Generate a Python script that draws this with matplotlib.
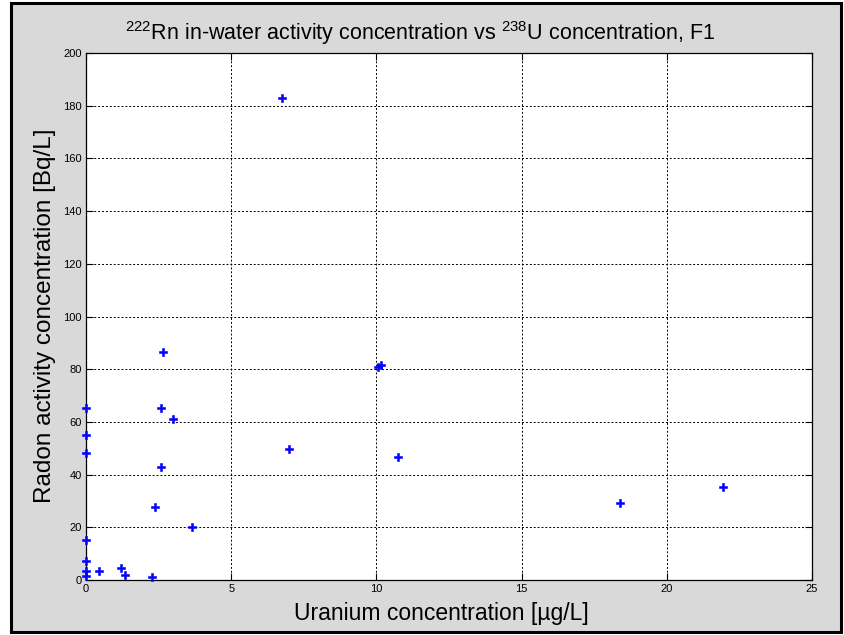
"""Radon in-water activity vs uranium concentration (F1), MATLAB-style scatter."""

import matplotlib

matplotlib.use("Agg")
import matplotlib.pyplot as plt
from matplotlib.patches import Rectangle

# values
uranium_ug_per_l = [
    0.0, 0.0, 0.0, 0.0, 0.0, 0.0, 0.0,
    0.46, 1.21, 1.33, 2.28, 2.38, 2.57, 2.57, 2.64, 3.01, 3.64,
    6.74, 6.99, 10.05, 10.15, 10.75, 18.39, 21.95,
]
radon_bq_per_l = [
    65.2, 55.2, 48.3, 15.2, 7.2, 3.4, 1.5,
    3.5, 4.7, 1.9, 1.3, 27.6, 65.2, 42.8, 86.5, 61.1, 20.2,
    182.8, 49.9, 81.0, 81.6, 46.6, 29.3, 35.3,
]
x_ticks = [0, 5, 10, 15, 20, 25]
y_ticks = list(range(0, 201, 20))

GREY = "#d9d9d9"

plt.rcParams["font.family"] = ["Liberation Sans", "DejaVu Sans"]
plt.rcParams["mathtext.fontset"] = "custom"
plt.rcParams["mathtext.rm"] = "Liberation Sans"

fig = plt.figure(figsize=(8.44, 6.35), dpi=100, facecolor="white")
fig.patches.append(
    Rectangle((11 / 844, 3 / 635), 830 / 844, 629 / 635, transform=fig.transFigure,
              facecolor=GREY, edgecolor="black", linewidth=2.2, zorder=-10)
)

ax = fig.add_axes([86 / 844, 1 - 580 / 635, 726 / 844, 527 / 635])
ax.set_facecolor("white")
ax.plot(uranium_ug_per_l, radon_bq_per_l, linestyle="none", marker="P",
        markersize=6, color="#0000ff", markeredgecolor="#0000ff",
        markeredgewidth=0.4, zorder=3, clip_on=False)

ax.set_xlim(0, 25)
ax.set_ylim(0, 200)
ax.set_xticks(x_ticks)
ax.set_yticks(y_ticks)
ax.tick_params(direction="in", length=5, width=0.8, top=True, right=True,
               labelsize=8, pad=3, colors="black")
ax.grid(True, color="black", linestyle=(0, (2, 2)), linewidth=0.7)
for spine in ax.spines.values():
    spine.set_linewidth(0.9)

fig.text(420 / 844, 1 - 33 / 635,
         r"$\mathregular{^{222}}$Rn in-water activity concentration vs "
         r"$\mathregular{^{238}}$U concentration, F1",
         fontsize=15.5, ha="center", va="center")
ax.set_xlabel("Uranium concentration [µg/L]", fontsize=16.5)
ax.xaxis.set_label_coords((441 - 86) / 726, -(602 - 580) / 527)
ax.set_ylabel("Radon activity concentration [Bq/L]", fontsize=17.5)
ax.yaxis.set_label_coords(-(86 - 56) / 726, (580 - 316) / 527)

fig.savefig("out.png", dpi=100, facecolor=fig.get_facecolor())
